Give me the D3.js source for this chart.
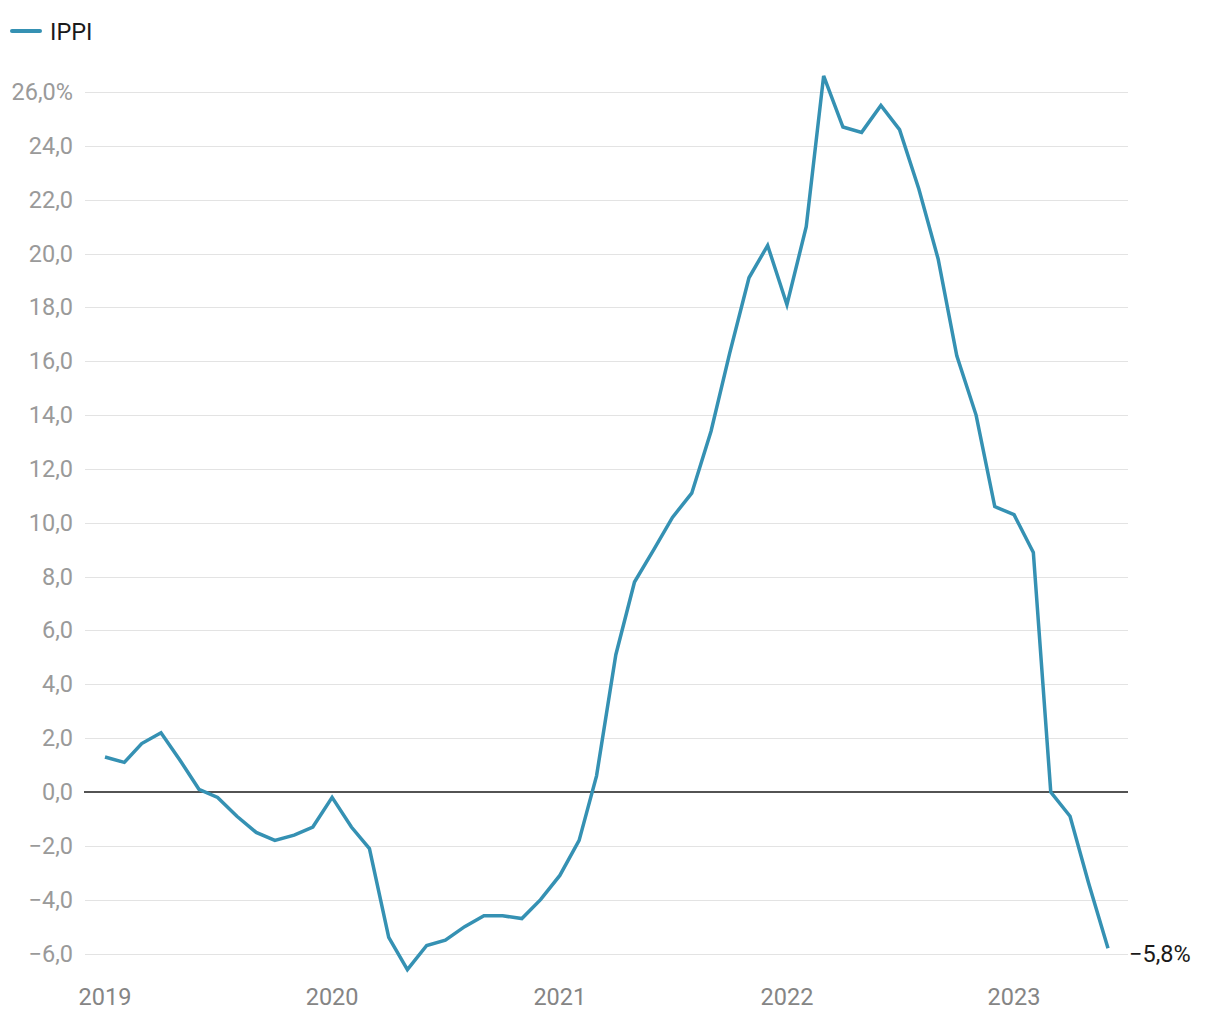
<!DOCTYPE html>
<html>
<head>
<meta charset="utf-8">
<script src="https://cdn.jsdelivr.net/npm/d3@7"></script>
<style>
  html, body { margin: 0; padding: 0; background: #fff; }
  svg { display: block; font-family: Roboto, "Noto Sans", sans-serif; }
</style>
</head>
<body>
<svg id="chart" width="1220" height="1020"></svg>
<script>
const seriesName = "IPPI";
const months = [
  "2019-01","2019-02","2019-03","2019-04","2019-05","2019-06","2019-07","2019-08","2019-09","2019-10","2019-11","2019-12",
  "2020-01","2020-02","2020-03","2020-04","2020-05","2020-06","2020-07","2020-08","2020-09","2020-10","2020-11","2020-12",
  "2021-01","2021-02","2021-03","2021-04","2021-05","2021-06","2021-07","2021-08","2021-09","2021-10","2021-11","2021-12",
  "2022-01","2022-02","2022-03","2022-04","2022-05","2022-06","2022-07","2022-08","2022-09","2022-10","2022-11","2022-12",
  "2023-01","2023-02","2023-03","2023-04","2023-05","2023-06"
];
const values = [
  1.3, 1.1, 1.8, 2.2, 1.2, 0.1, -0.2, -0.9, -1.5, -1.8, -1.6, -1.3,
  -0.2, -1.3, -2.1, -5.4, -6.6, -5.7, -5.5, -5.0, -4.6, -4.6, -4.7, -4.0,
  -3.1, -1.8, 0.6, 5.1, 7.8, 9.0, 10.2, 11.1, 13.4, 16.3, 19.1, 20.3,
  18.1, 21.0, 26.6, 24.7, 24.5, 25.5, 24.6, 22.4, 19.8, 16.2, 14.0, 10.6,
  10.3, 8.9, 0.0, -0.9, -3.4, -5.8
];
const yTicks = [-6, -4, -2, 0, 2, 4, 6, 8, 10, 12, 14, 16, 18, 20, 22, 24, 26];
const xTickYears = ["2019", "2020", "2021", "2022", "2023"];

const parse = d3.timeParse("%Y-%m");
const data = months.map((m, i) => ({ date: parse(m), value: values[i] }));

const svg = d3.select("#chart");
const color = "#3591b3";
const fs = 23.5;

const x = d3.scaleTime()
  .domain([parse("2019-01"), parse("2023-06")])
  .range([105, 1108]);

const pxPerUnit = 700 / 26;
const y = d3.scaleLinear()
  .domain([-7, 27])
  .range([792 + 7 * pxPerUnit, 792 - 27 * pxPerUnit]);

const gridLeft = 85, gridRight = 1128;

// gridlines
svg.append("g")
  .selectAll("line")
  .data(yTicks.filter(d => d !== 0))
  .join("line")
  .attr("x1", gridLeft).attr("x2", gridRight)
  .attr("y1", d => Math.round(y(d)) + 0.5).attr("y2", d => Math.round(y(d)) + 0.5)
  .attr("stroke", "#e3e3e3").attr("stroke-width", 1.2);

// y labels
const fmt = v => {
  const s = Math.abs(v).toFixed(1).replace(".", ",");
  return (v < 0 ? "\u2212" : "") + s;
};
svg.append("g")
  .selectAll("text")
  .data(yTicks)
  .join("text")
  .attr("x", 73)
  .attr("y", d => y(d) + 8)
  .attr("text-anchor", "end")
  .attr("fill", "#9a9a9a")
  .attr("font-size", fs)
  .text(d => fmt(d) + (d === 26 ? "%" : ""));

// zero line
svg.append("line")
  .attr("x1", gridLeft - 1).attr("x2", gridRight)
  .attr("y1", y(0)).attr("y2", y(0))
  .attr("stroke", "#1a1a1a").attr("stroke-width", 1.5);

// x labels
svg.append("g")
  .selectAll("text")
  .data(xTickYears)
  .join("text")
  .attr("x", d => x(parse(d + "-01")))
  .attr("y", 1005)
  .attr("text-anchor", "middle")
  .attr("fill", "#858585")
  .attr("font-size", fs)
  .text(d => d);

// line
const line = d3.line()
  .x(d => x(d.date))
  .y(d => y(d.value));

svg.append("path")
  .datum(data)
  .attr("d", line)
  .attr("fill", "none")
  .attr("stroke", color)
  .attr("stroke-width", 3.5)
  .attr("stroke-linejoin", "miter")
  .attr("stroke-linecap", "butt");

// end label
const last = data[data.length - 1];
svg.append("text")
  .attr("x", 1129)
  .attr("y", y(last.value) + 14)
  .attr("fill", "#1a1a1a")
  .attr("font-size", fs)
  .text(fmt(last.value) + "%");

// legend
svg.append("line")
  .attr("x1", 12).attr("x2", 40)
  .attr("y1", 31).attr("y2", 31)
  .attr("stroke", color).attr("stroke-width", 4)
  .attr("stroke-linecap", "round");
svg.append("text")
  .attr("x", 50).attr("y", 40)
  .attr("fill", "#1a1a1a")
  .attr("font-size", fs)
  .text(seriesName);
</script>
</body>
</html>
